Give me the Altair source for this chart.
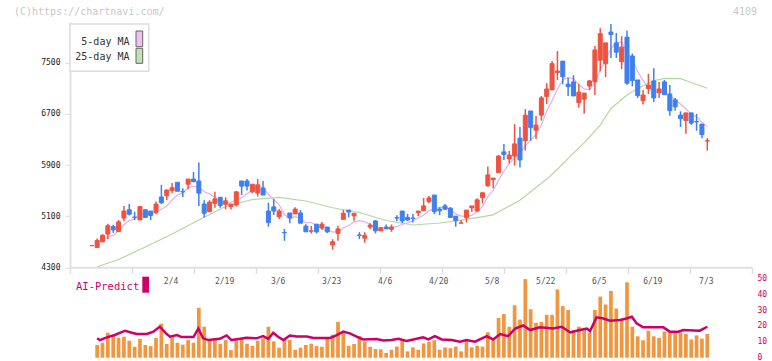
import altair as alt
import pandas as pd

MONO = "DejaVu Sans Mono"
UP, DOWN = "#ef5340", "#3f7ff0"

# ---- daily candles (session index 1..116) ----
opens = [4640, 4610, 4700, 4820, 4935, 4860, 5070, 5200, 5085, 5040,
         5200, 5180, 5160, 5400, 5420, 5500, 5630, 5485, 5600, 5680,
         5650, 5290, 5170, 5300, 5395, 5285, 5250, 5275, 5650, 5650,
         5480, 5460, 5540, 5180, 5245, 5090, 4845, 5150, 5135, 5150,
         4945, 4865, 4975, 4915, 4930, 4650, 4830, 5050, 5195, 5105,
         4805, 4755, 4930, 5025, 4870, 4930, 4895, 5075, 5180, 5080,
         5070, 5155, 5185, 5325, 5430, 5210, 5260, 5225, 5100, 4990,
         5075, 5230, 5180, 5390, 5575, 5670, 5780, 6105, 5995, 6040,
         6320, 6280, 6745, 6445, 6680, 6970, 7075, 7345, 7525, 7165,
         7200, 6875, 6930, 7135, 7200, 7540, 7485, 7980, 7810, 7515,
         7900, 7605, 7230, 6905, 7095, 7215, 7030, 7200, 7010, 6920,
         6680, 6595, 6715, 6580, 6540, 6275]
highs = [4650, 4750, 4820, 4980, 4965, 5040, 5260, 5290, 5170, 5260,
         5200, 5180, 5330, 5590, 5510, 5620, 5630, 5535, 5680, 5790,
         5940, 5350, 5350, 5480, 5395, 5395, 5290, 5495, 5650, 5680,
         5600, 5680, 5650, 5310, 5370, 5210, 4900, 5150, 5240, 5195,
         4975, 4945, 4975, 5010, 4930, 4740, 4945, 5195, 5195, 5145,
         4850, 4850, 4990, 5040, 4920, 4970, 4970, 5115, 5180, 5135,
         5135, 5180, 5385, 5415, 5430, 5240, 5290, 5240, 5100, 5040,
         5195, 5260, 5380, 5480, 5875, 5695, 6055, 6230, 6120, 6540,
         6495, 6775, 6745, 6665, 6980, 7180, 7525, 7685, 7525, 7260,
         7305, 7165, 7025, 7230, 7760, 8040, 7810, 8105, 7965, 7915,
         8005, 7645, 7230, 7075, 7325, 7415, 7200, 7230, 7150, 6950,
         6740, 6715, 6715, 6700, 6540, 6320]
lows = [4630, 4610, 4690, 4740, 4840, 4860, 5020, 5110, 5040, 5040,
        5080, 5040, 5130, 5290, 5350, 5460, 5490, 5400, 5520, 5630,
        5260, 5080, 5160, 5230, 5230, 5205, 5205, 5250, 5430, 5500,
        5460, 5405, 5430, 4935, 5120, 5055, 4715, 4990, 5135, 4990,
        4855, 4830, 4830, 4885, 4835, 4575, 4715, 5050, 5080, 5030,
        4740, 4685, 4895, 4830, 4870, 4905, 4855, 5025, 4990, 5025,
        5000, 5100, 5185, 5300, 5130, 5115, 5195, 5080, 4935, 4990,
        5000, 5170, 5170, 5300, 5560, 5535, 5780, 5980, 5925, 5890,
        5860, 6125, 6280, 6305, 6595, 6855, 7075, 7230, 7165, 6980,
        6980, 6795, 6700, 7075, 6995, 7365, 7275, 7575, 7575, 7400,
        7155, 7130, 6950, 6845, 7010, 6885, 6950, 7000, 6670, 6750,
        6495, 6390, 6530, 6435, 6320, 6125]
closes = [4640, 4720, 4800, 4950, 4885, 5010, 5180, 5130, 5080, 5250,
          5080, 5110, 5290, 5310, 5510, 5545, 5490, 5480, 5680, 5640,
          5460, 5145, 5320, 5370, 5265, 5340, 5290, 5480, 5570, 5570,
          5600, 5590, 5430, 5000, 5180, 5180, 4840, 5075, 5210, 4990,
          4855, 4870, 4855, 4975, 4855, 4700, 4900, 5145, 5165, 5145,
          4800, 4800, 4960, 4870, 4920, 4905, 4930, 5070, 5025, 5040,
          5065, 5180, 5260, 5385, 5170, 5185, 5210, 5080, 5030, 4995,
          5195, 5260, 5355, 5465, 5745, 5695, 6040, 6065, 6055, 6230,
          5980, 6680, 6485, 6525, 6950, 7090, 7485, 7370, 7280, 7125,
          6980, 7040, 7025, 7215, 7700, 7955, 7810, 7940, 7665, 7745,
          7180, 7220, 6985, 6995, 7150, 6950, 7090, 7000, 6750, 6810,
          6625, 6715, 6555, 6575, 6375, 6280]

# ---- lower panel: bars per session, AI-Predict score ----
volume = [None, 8.0, 9.4, 15.7, 14.3, 12.6, 13.2, 10.7, 6.9, 11.9,
          8.0, 7.3, 12.4, 21.4, 8.6, 13.6, 9.4, 8.2, 11.1, 9.4,
          31.4, 19.5, 11.1, 11.1, 8.8, 11.1, 4.8, 10.9, 11.7, 8.8,
          7.5, 10.7, 12.2, 19.5, 10.3, 6.3, 11.7, 11.1, 5.0, 6.3,
          8.0, 8.8, 7.3, 6.9, 12.8, 14.5, 22.6, 16.4, 7.5, 8.6,
          13.6, 10.1, 6.9, 5.5, 5.3, 3.0, 5.0, 7.0, 11.0, 4.0,
          6.5, 5.0, 9.0, 10.0, 11.0, 5.0, 6.5, 6.0, 7.0, 4.0,
          10.5, 6.5, 7.5, 7.0, 16.0, 11.0, 25.0, 27.5, 19.5, 33.0,
          24.0, 49.5, 30.5, 22.0, 22.5, 27.0, 27.0, 43.0, 32.5, 30.0,
          17.5, 19.5, 18.0, 16.0, 30.0, 38.5, 33.5, 42.0, 31.0, 24.0,
          47.5, 19.5, 13.5, 11.0, 17.0, 13.5, 12.5, 16.5, 16.0, 16.0,
          16.0, 15.0, 11.5, 14.0, 12.0, 15.0]

ai_idx = [2, 2.5, 3.8, 5.3, 7.2, 8.5, 9.4, 11.3, 12.5, 13.7, 15.0, 15.6, 16.9, 17.8,
          20.0, 20.9, 21.8, 22.8, 24.9, 26.2, 27.1, 28.7, 29.9, 31.8, 33.0, 34.0, 34.9,
          35.8, 36.8, 38.0, 39.3, 41.2, 42.4, 45.5, 46.4, 48.0, 49.2, 50.8, 51.7, 54.2,
          55.5, 57.0, 58.3, 59.8, 61.1, 62.9, 63.9, 65.1, 66.4, 68.2, 69.8, 71.0, 72.6,
          74.8, 76.0, 77.3, 78.8, 80.1, 81.6, 82.9, 84.7, 87.2, 88.8, 90.4, 92.2, 93.5,
          94.1, 95.3, 96.6, 97.8, 99.7, 100.9, 101.9, 102.8, 104.0, 107.8, 109.0, 110.6,
          111.5, 114.6, 116]
ai_val = [12.2, 11.1, 12.8, 14.3, 17.0, 15.7, 14.9, 14.9, 16.4, 19.5, 14.9, 13.2, 14.3, 13.0,
          13.0, 18.4, 12.2, 11.1, 11.9, 14.0, 11.1, 11.9, 12.6, 12.2, 13.6, 11.9, 15.7,
          13.2, 11.1, 14.0, 13.4, 13.4, 12.4, 12.4, 13.6, 16.4, 15.3, 12.8, 11.5, 11.7,
          10.9, 11.1, 11.9, 10.5, 11.5, 12.8, 11.5, 13.6, 11.5, 11.1, 10.1, 11.1, 10.1,
          13.6, 11.5, 14.9, 13.6, 18.4, 20.3, 17.4, 19.1, 18.4, 19.5, 15.9, 17.4, 18.4,
          16.8, 25.4, 24.7, 23.3, 23.7, 24.7, 25.8, 21.6, 19.1, 19.1, 16.4, 16.4,
          17.4, 17.0, 19.5]

# ---- 25-day moving average ----
ma25_idx = [2, 6, 11, 16, 21, 26, 31, 36, 41, 46, 51, 56, 61, 66, 71, 76, 81, 86, 88,
            91, 93, 96, 98, 101, 103, 106, 108, 111, 113, 116]
ma25_val = [4309, 4422, 4617, 4821, 5040, 5251, 5360, 5395, 5337, 5231, 5157, 5032, 4962,
            4993, 5051, 5121, 5350, 5680, 5833, 6085, 6247, 6525, 6785, 6995, 7096, 7218,
            7256, 7251, 7190, 7100]

# ---- date labels (every 10 sessions) ----
date_idx = [16, 26, 36, 46, 56, 66, 76, 86, 96, 106, 116]
date_text = ["2/4", "2/19", "3/6", "3/23", "4/6", "4/20", "5/8", "5/22", "6/5", "6/19", "7/3"]

price_ticks = [4300, 5100, 5900, 6700, 7500]
score_ticks = [0, 10, 20, 30, 40, 50]

n = len(closes)
candles = pd.DataFrame({
    "idx": list(range(1, n + 1)),
    "open": opens, "high": highs, "low": lows, "close": closes,
})
candles["dir"] = ["up" if c >= o else "down" for o, c in zip(opens, closes)]
vol_df = pd.DataFrame({"idx": list(range(1, n + 1)), "vol": volume})
ai_df = pd.DataFrame({"idx": ai_idx, "val": ai_val})
ma25_df = pd.DataFrame({"idx": ma25_idx, "ma25": ma25_val})
dates_df = pd.DataFrame({"idx": date_idx, "label": date_text})
one = pd.DataFrame({"k": [0]})

# ---- geometry of the plot area ----
W, H = 682, 245.5
LEFT, TOP = 70, 21.8
X_LO, X_HI = -3.073, 124.356
x_ticks = [X_LO + k * (X_HI - X_LO) / 11 for k in range(12)]

x_enc = alt.X("idx:Q",
              scale=alt.Scale(domain=[X_LO, X_HI], nice=False, zero=False, padding=0),
              axis=alt.Axis(values=x_ticks, labels=False, title=None, grid=False,
                            tickSize=6, tickWidth=1.5, tickColor="#dddddd",
                            domainColor="#e0e0e0", domainWidth=2))

p_scale = alt.Scale(domain=[4300, 8140], nice=False, zero=False, padding=0)
p_axis = alt.Axis(values=price_ticks, format="d", title=None, grid=False, tickSize=5,
                  tickColor="#dddddd", domainColor="#e0e0e0", domainWidth=2,
                  labelFont=MONO, labelFontSize=8, labelColor="#222222", labelPadding=5)

s_scale = alt.Scale(domain=[0, 50], range=[357.7 - TOP, 278.3 - TOP], nice=False,
                    zero=True, padding=0)
s_axis = alt.Axis(orient="right", values=score_ticks, title=None, grid=False,
                  domain=False, ticks=False, labelFont=MONO, labelFontSize=8,
                  labelColor="#cc0066", labelPadding=5)

dir_color = alt.Scale(domain=["up", "down"], range=[UP, DOWN])

base = alt.Chart(candles)

ma25_line = alt.Chart(ma25_df).mark_line(color="#b2d99e", strokeWidth=1.2).encode(
    x=x_enc, y=alt.Y("ma25:Q", scale=p_scale, axis=p_axis))

ma5_line = base.transform_window(
    ma5="mean(close)", frame=[-4, 0], sort=[alt.SortField("idx")]
).transform_filter("datum.idx >= 2").mark_line(color="#e6b0e6", strokeWidth=1.2).encode(
    x=x_enc, y=alt.Y("ma5:Q", scale=p_scale, axis=p_axis))

wicks = base.mark_rule(strokeWidth=1.5).encode(
    x=x_enc,
    y=alt.Y("low:Q", scale=p_scale, axis=p_axis),
    y2="high:Q",
    color=alt.Color("dir:N", scale=dir_color, legend=None))

bodies = base.mark_bar(width=4, strokeWidth=1).encode(
    x=x_enc,
    y=alt.Y("open:Q", scale=p_scale, axis=p_axis),
    y2="close:Q",
    color=alt.Color("dir:N", scale=dir_color, legend=None),
    stroke=alt.Stroke("dir:N", scale=dir_color, legend=None))

price_layer = alt.layer(ma25_line, ma5_line, wicks, bodies)

vol_bars = alt.Chart(vol_df).mark_bar(width=3.7, color="#f0963f").encode(
    x=x_enc, y=alt.Y("vol:Q", scale=s_scale, axis=s_axis))

ai_line = alt.Chart(ai_df).mark_line(color="#cc0066", strokeWidth=2.5).encode(
    x=x_enc, y=alt.Y("val:Q", scale=s_scale, axis=s_axis))

score_layer = alt.layer(vol_bars, ai_line)

# ---- text and legend decorations ----
def txt(s, x, y, size=10, color="#333333", align="left", baseline="middle"):
    return alt.Chart(one).mark_text(
        font=MONO, fontSize=size, color=color, align=align, baseline=baseline
    ).encode(x=alt.value(x - LEFT), y=alt.value(y - TOP), text=alt.value(s))

def box(x1, y1, x2, y2, fill, stroke=None, sw=1):
    kw = dict(fill=fill)
    if stroke:
        kw.update(stroke=stroke, strokeWidth=sw)
    return alt.Chart(one).mark_rect(**kw).encode(
        x=alt.value(x1 - LEFT), x2=alt.value(x2 - LEFT),
        y=alt.value(y1 - TOP), y2=alt.value(y2 - TOP))

dates = alt.Chart(dates_df).mark_text(
    font=MONO, fontSize=8, color="#555555", align="center", baseline="middle", dx=-1
).encode(x=x_enc, y=alt.value(282 - TOP), text="label:N")

deco = alt.layer(
    box(70, 24, 148.7, 71.3, "#ffffff", "#dddddd", 1.5),
    box(136, 31, 142.7, 46.7, "#f0c0f0", "#666666", 1),
    box(136, 48.3, 142.7, 63.3, "#c2e2b2", "#666666", 1),
    txt("5-day MA", 129.5, 41.7, align="right"),
    txt("25-day MA", 129.5, 57.3, align="right"),
    txt("(C)https://chartnavi.com/", 14, 12.5, color="#c8c8c8"),
    txt("4109", 757, 11.7, color="#c8c8c8", align="right"),
    txt("AI-Predict", 76, 290, size=10.5, color="#cc0066", baseline="alphabetic"),
    box(142.3, 276.7, 149, 292.7, "#cc0066"),
    dates,
)

chart = alt.layer(price_layer, score_layer, deco).resolve_scale(
    y="independent"
).properties(
    width=W, height=H,
    padding={"left": LEFT, "top": TOP, "right": 772 - LEFT - W, "bottom": 361 - TOP - H},
    autosize=alt.AutoSizeParams(type="none"),
    background="#ffffff",
).configure_view(strokeWidth=0)

chart.save("out.html", embed_options={"renderer": "svg", "actions": False})
